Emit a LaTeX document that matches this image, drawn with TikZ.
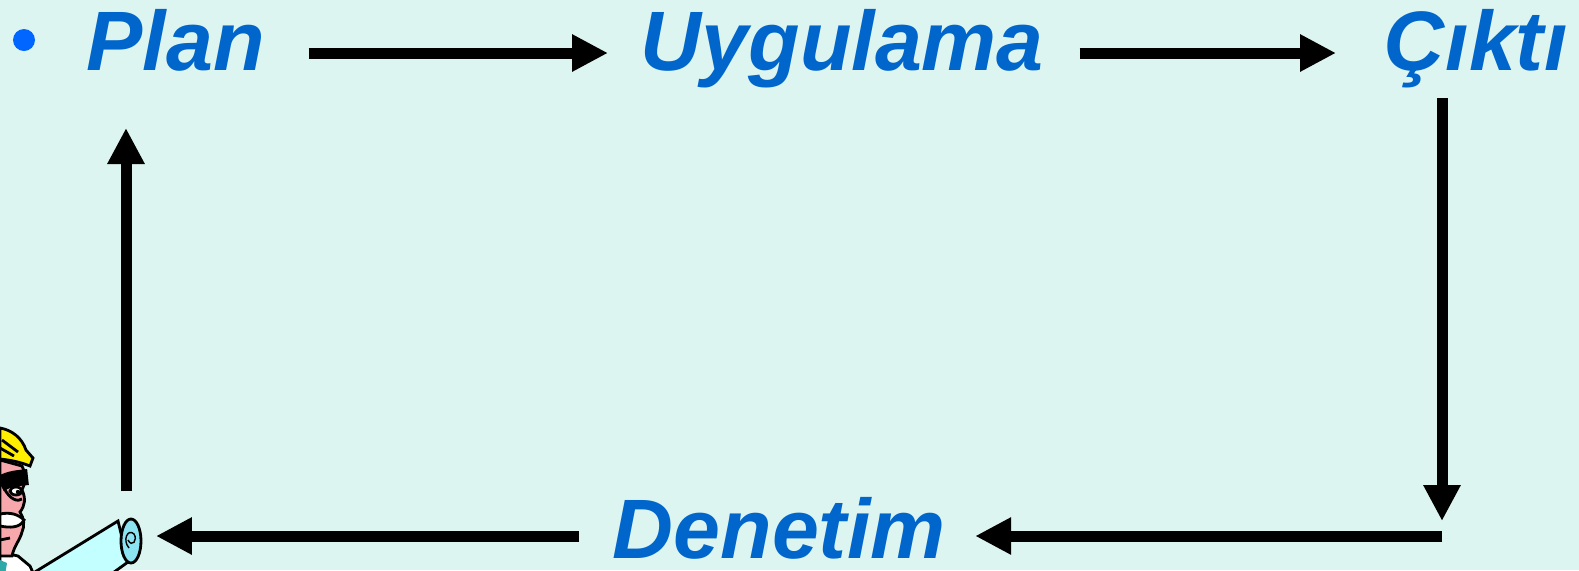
\documentclass[tikz,border=0pt]{standalone}
\usepackage{fontspec}
\setmainfont{Liberation Sans}
\usetikzlibrary{arrows.meta}
\definecolor{bg}{HTML}{DDF5F0}
\definecolor{word}{HTML}{0066CC}
\definecolor{dot}{HTML}{0066FF}
\definecolor{hat}{HTML}{FFEE00}
\definecolor{skin}{HTML}{F6A8AC}
\definecolor{paper}{HTML}{C4FFFF}
\definecolor{roll}{HTML}{8CE4F2}
\definecolor{tie}{HTML}{2FA8A8}

\begin{document}
\begin{tikzpicture}[
	  x=0.1mm, y=-0.1mm,
	    >={Triangle[length=3.6mm, width=3.5mm]},
	      step word/.style={text=word, inner sep=0pt, anchor=base west, font=\fontsize{24}{28}\selectfont\bfseries\itshape},
	        flow/.style={->, line width=1.1mm, black}
	        ]
	        \useasboundingbox (0,0) rectangle (1579,570);
	        \fill[bg] (0,0) rectangle (1579,570);

	        % bullet
	        \fill[dot] (24,40) circle (11);

	        % the four steps
	        \node[step word] (plan) at (86,70) {Plan};
	        \node[step word] (uyg)  at (640,70) {Uygulama};
	        \node[step word] (cikti) at (1384,70) {Çıktı};
	        \node[step word] (denetim) at (612,558) {Denetim};

	        % corners of the loop
	        \coordinate (row)  at (0,53);
	        \coordinate (turn) at (1442,536);
	        \coordinate (back) at (126,536);

	        % edges
	        \draw[flow, shorten <=4.3mm, shorten >=3.2mm] (plan.east |- row) -- (uyg.west |- row);
	        \draw[flow, shorten <=3.5mm, shorten >=4.8mm] (uyg.east |- row) -- (cikti.west |- row);
	        \draw[flow, shorten <=2.8mm, shorten >=1.5mm] (cikti.base -| turn) -- (turn);
	        \draw[flow, -, line cap=butt] (turn) -- ([xshift=10mm]denetim.east |- turn);
	        \draw[flow, shorten >=2.9mm] (turn) -- (denetim.east |- turn);
	        \draw[flow, shorten <=3.3mm, shorten >=3mm] (denetim.west |- turn) -- (back);
	        \draw[flow, shorten <=4.5mm, shorten >=5.8mm] (back) -- (plan.base -| back);

	        % engineer with a rolled plan
	        \begin{scope}
	          \clip (0,0) rectangle (1579,570);
	          \draw[thick, fill=white] (0,552) -- (18,556) -- (30,566) -- (34,575) -- (0,575) -- cycle;
	          \fill[tie] (0,560) -- (7,563) -- (5,575) -- (0,575) -- cycle;
	          \draw[thick, fill=skin] (0,460) -- (22,466) .. controls (27,476) and (25,484) .. (22,490)
	            .. controls (26,498) and (25,506) .. (20,512) .. controls (24,518) and (25,526) .. (22,532)
	            .. controls (20,540) and (14,546) .. (12,556) -- (0,556) -- cycle;
	          \draw[line width=1.6mm] (0,484) .. controls (10,478) and (20,478) .. (28,477);
	          \draw[thick, fill=white] (16,491) ellipse (6 and 4);
	          \fill (18,492) circle (2.2);
	          \draw[thick] (4,488) .. controls (10,500) and (18,502) .. (22,499);
	          \draw[thick, fill=white] (0,514) .. controls (10,512) and (18,514) .. (24,520)
	            .. controls (20,528) and (10,528) .. (0,526) -- cycle;
	          \draw[thick] (0,540) -- (10,538);
	          \draw[thick, fill=hat] (0,428) .. controls (12,430) and (22,438) .. (26,450)
	            -- (33,458) -- (30,466) .. controls (20,462) and (10,460) .. (0,459) -- cycle;
	          \draw[thick] (2,440) -- (18,452);
	          \draw[thick] (0,448) -- (14,456);
	          \draw[thick, fill=paper] (30,575) -- (118,521) -- (128,562) -- (110,575) -- cycle;
	          \draw[thick, fill=roll] (131,541) ellipse (10 and 22);
	          \draw[thin] (129,548) .. controls (122,540) and (128,528) .. (134,534)
	            .. controls (138,540) and (132,548) .. (128,540);
	        \end{scope}
	        \end{tikzpicture}
\end{document}
